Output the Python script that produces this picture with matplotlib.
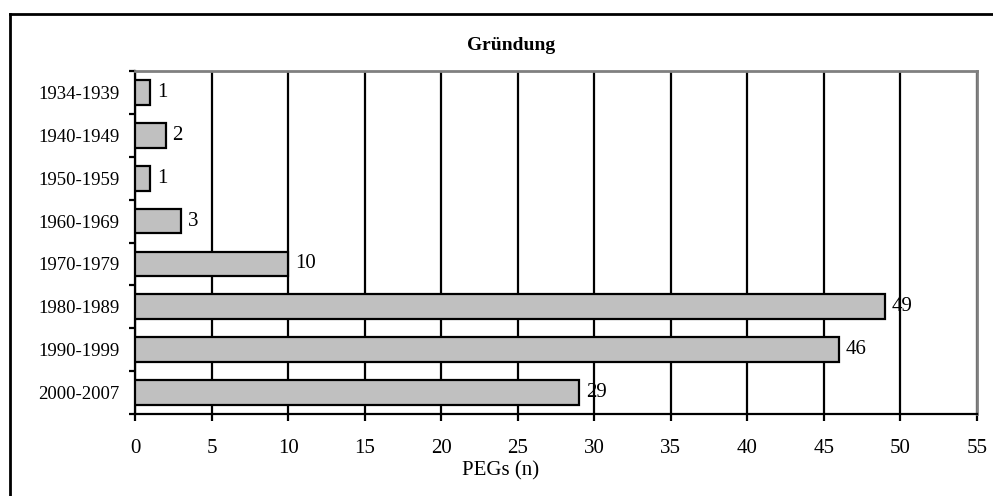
import matplotlib.pyplot as plt
from matplotlib.lines import Line2D

plt.rcParams['font.family'] = ['Liberation Serif', 'DejaVu Serif']

# Daten
zeitraum = ["1934-1939", "1940-1949", "1950-1959", "1960-1969",
            "1970-1979", "1980-1989", "1990-1999", "2000-2007"]
anzahl = [1, 2, 1, 3, 10, 49, 46, 29]
xticks = list(range(0, 56, 5))

fig = plt.figure(figsize=(9.93, 4.96), dpi=100)
ax = fig.add_axes([135/993, 1-414/496, (977-135)/993, (414-71)/496])

pos = list(range(len(zeitraum)))
ax.barh(pos, anzahl, height=0.58, color="#C0C0C0", edgecolor="black",
        linewidth=1.6, zorder=3)
for p, v in zip(pos, anzahl):
    ax.text(v + 0.45, p, str(v), va="center", ha="left", fontsize=15, zorder=4)

ax.set_xlim(0, 55)
ax.set_ylim(len(zeitraum) - 0.5, -0.5)
ax.set_xticks(xticks)
ax.set_yticks(pos)
ax.set_yticklabels(zeitraum, fontsize=13.5)
ax.set_yticks([p - 0.5 for p in pos] + [len(pos) - 0.5], minor=True)
ax.tick_params(axis="y", which="major", length=0, pad=11)
ax.tick_params(axis="y", which="minor", length=4, width=1.6, direction="out")
ax.tick_params(axis="x", length=5, width=1.6, direction="out", pad=13,
               labelsize=15)

ax.xaxis.grid(True, color="black", linewidth=1.6, zorder=1)
ax.set_axisbelow(True)

for s in ["left", "bottom"]:
    ax.spines[s].set_color("black")
    ax.spines[s].set_linewidth(1.6)
for s in ["top", "right"]:
    ax.spines[s].set_color("#808080")
    ax.spines[s].set_linewidth(2)

fig.text(501/993, 1-471/496, "PEGs (n)", ha="center", va="center", fontsize=15)
fig.text(511/993, 1-45/496, "Gründung", ha="center", va="center",
         fontsize=14, fontweight="bold")

# Rahmen (oben und links)
fig.add_artist(Line2D([10/993, 1], [1-14/496, 1-14/496], color="black",
                      linewidth=2, transform=fig.transFigure))
fig.add_artist(Line2D([10/993, 10/993], [0, 1-14/496], color="black",
                      linewidth=2, transform=fig.transFigure))

fig.savefig("out.png", dpi=100)
